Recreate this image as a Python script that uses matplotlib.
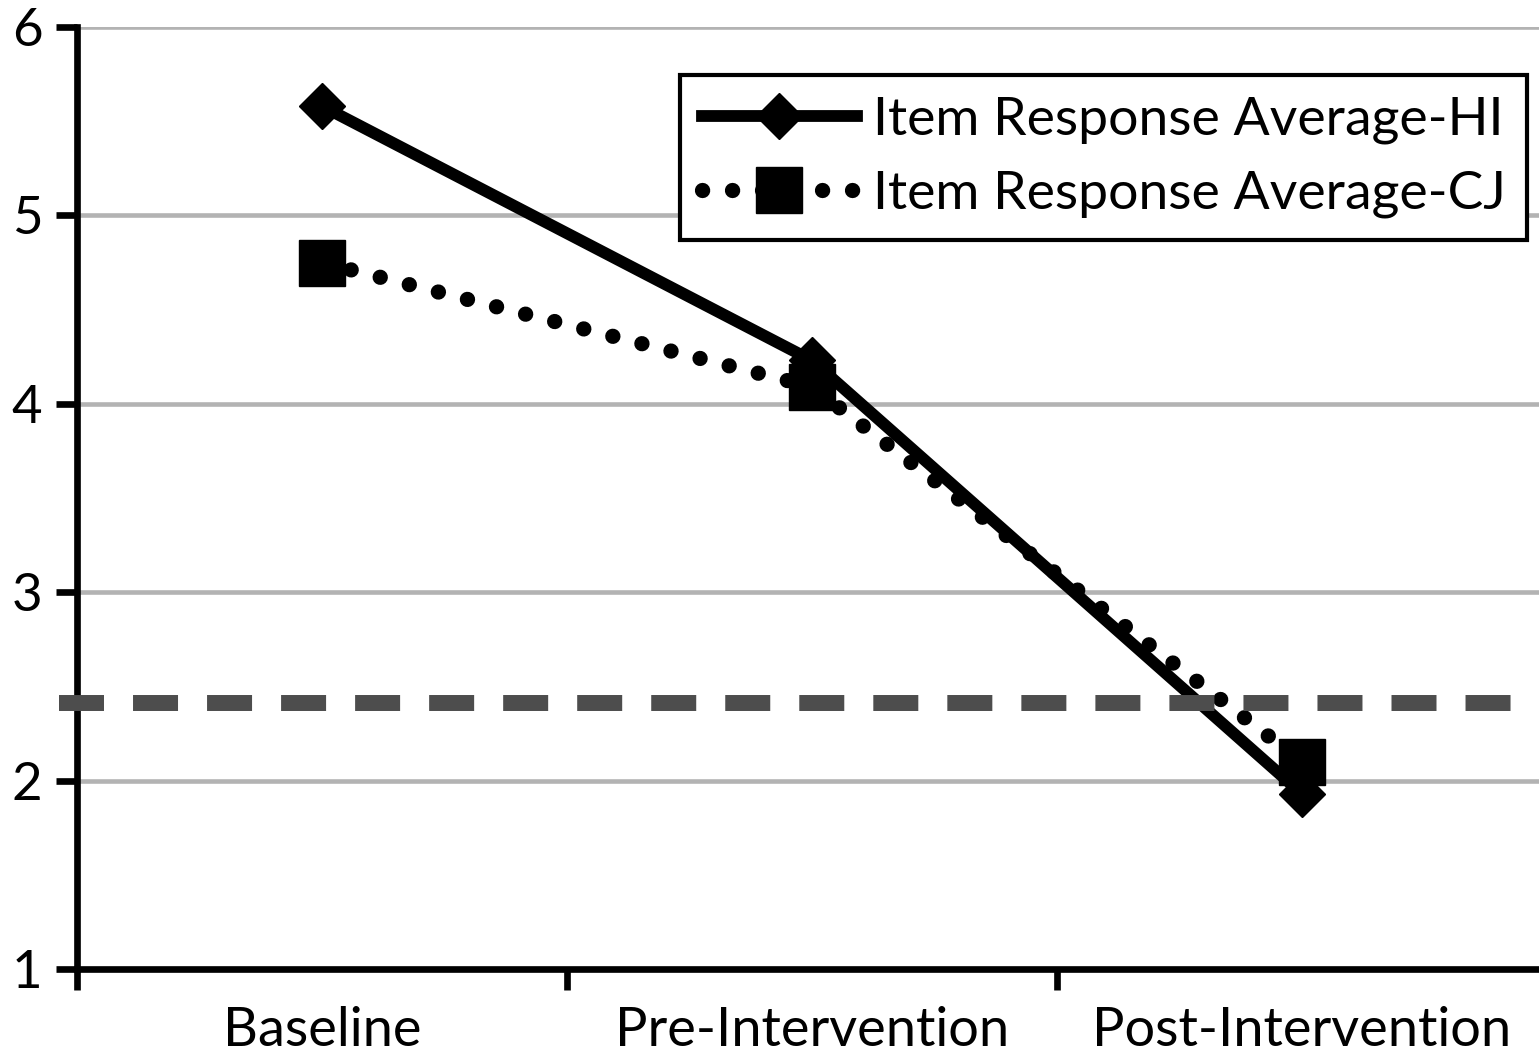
import matplotlib
matplotlib.use("Agg")
import matplotlib.pyplot as plt
import numpy as np

# Item response averages per phase
phases = ["Baseline", "Pre-Intervention", "Post-Intervention"]
hi_avg = [5.58, 4.23, 1.93]
cj_avg = [4.75, 4.09, 2.10]
threshold = 2.41

plt.rcParams['font.family'] = ['Lato', 'DejaVu Sans']
plt.rcParams['lines.scale_dashes'] = False

fig = plt.figure(figsize=(15.39, 10.57), dpi=100)
ax = fig.add_axes([77/1539, 88/1057, 1462/1539, 942/1057])

x = np.arange(len(phases)) + 0.5

# grid
for v in range(2, 7):
    ax.axhline(v, color='#b3b3b3', lw=3.3, zorder=1)

ax.plot(x, hi_avg, color='black', lw=8.5, marker='D', markersize=23,
        label='Item Response Average-HI', zorder=4)
ax.plot(x, cj_avg, color='black', lw=11, linestyle=(0, (0.1, 21.5)),
        dash_capstyle='round', marker='s', markersize=33,
        label='Item Response Average-CJ', zorder=5)

ax.axhline(threshold, xmin=-0.0123, xmax=0.981, color='#4d4d4d', lw=11.5,
           linestyle=(0, (32.4, 20.9)), dash_capstyle='butt', clip_on=False, zorder=6)

ax.set_xlim(0, 1462/490)
ax.set_ylim(1, 6)
ax.set_yticks(range(1, 7))
ax.set_xticks([0, 1, 2])
ax.set_xticklabels([])
ax.set_xticks(x, minor=True)
ax.set_xticklabels(phases, minor=True)

for s in ['top', 'right']:
    ax.spines[s].set_visible(False)
for s in ['left', 'bottom']:
    ax.spines[s].set_linewidth(4.8)
    ax.spines[s].set_zorder(3)

ax.tick_params(axis='both', which='major', length=15, width=4.8, labelsize=38)
ax.tick_params(axis='y', pad=10)
ax.tick_params(axis='x', which='minor', length=0, labelsize=39, pad=27)

leg = ax.legend(loc='upper right', bbox_to_anchor=(1527/1539, 1 - 75/1057),
                bbox_transform=fig.transFigure, fontsize=38.5, frameon=True,
                fancybox=False, edgecolor='black', framealpha=1,
                handlelength=2.9, handletextpad=0.3, borderpad=0.4,
                labelspacing=0.5, borderaxespad=0)
leg.get_frame().set_linewidth(3)
leg.set_zorder(10)

fig.savefig('out.png', dpi=100)
